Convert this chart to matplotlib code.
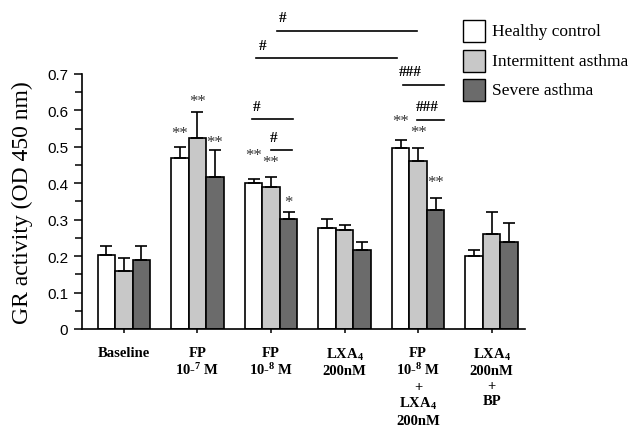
import matplotlib
matplotlib.use("Agg")
import matplotlib.pyplot as plt
from matplotlib.patches import Rectangle
import numpy as np

plt.rcParams['mathtext.fontset'] = 'custom'
plt.rcParams['mathtext.rm'] = 'Liberation Serif:bold'
plt.rcParams['mathtext.it'] = 'Liberation Serif:italic'
plt.rcParams['mathtext.bf'] = 'Liberation Serif:bold'

categories = ["Baseline", "FP\n10-$^{7}$ M", "FP\n10-$^{8}$ M", "LXA$_{4}$\n200nM",
              "FP\n10-$^{8}$ M\n+\nLXA$_{4}$\n200nM", "LXA$_{4}$\n200nM\n+\nBP"]
series_names = ["Healthy control", "Intermittent asthma", "Severe asthma"]

healthy = [0.203, 0.470, 0.400, 0.276, 0.496, 0.200]
healthy_err = [0.026, 0.030, 0.012, 0.026, 0.023, 0.018]
intermittent = [0.160, 0.524, 0.389, 0.273, 0.461, 0.262]
intermittent_err = [0.034, 0.073, 0.029, 0.013, 0.035, 0.058]
severe = [0.189, 0.418, 0.302, 0.218, 0.326, 0.239]
severe_err = [0.039, 0.073, 0.018, 0.020, 0.034, 0.053]

healthy_sig = ["", "**", "**", "", "**", ""]
intermittent_sig = ["", "**", "**", "", "**", ""]
severe_sig = ["", "**", "*", "", "**", ""]

yticks = [0, 0.1, 0.2, 0.3, 0.4, 0.5, 0.6, 0.7]
ytick_labels = ["0", "0.1", "0.2", "0.3", "0.4", "0.5", "0.6", "0.7"]

colors = ["#ffffff", "#c8c8c8", "#6b6b6b"]

fig = plt.figure(figsize=(6.36, 4.27), dpi=100)
ax = fig.add_axes([0.129, 0.2272, 0.696, 0.5972])

x = np.arange(len(categories))
w = 0.238
vals = [healthy, intermittent, severe]
errs = [healthy_err, intermittent_err, severe_err]
sigs = [healthy_sig, intermittent_sig, severe_sig]
star_off = [[0, 0.038, 0.066, 0, 0.053, 0],
            [0, 0.029, 0.041, 0, 0.046, 0],
            [0, 0.023, 0.029, 0, 0.044, 0]]
for i in range(3):
    xs = x + (i - 1) * w
    ax.bar(xs, vals[i], w, color=colors[i], edgecolor="black", linewidth=1.2, zorder=2)
    ax.errorbar(xs, vals[i], yerr=[np.zeros(len(x)), errs[i]], fmt="none",
                ecolor="black", elinewidth=1.2, capsize=4, capthick=1.2, zorder=3)
    for j, s in enumerate(sigs[i]):
        if s:
            ax.text(xs[j], vals[i][j] + errs[i][j] + star_off[i][j], s,
                    ha="center", va="center", fontsize=12, family="Liberation Serif",
                    color="#333333")

ax.set_xlim(-0.57, 5.45)
ax.set_ylim(0, 0.7)
ax.set_yticks(yticks)
ax.set_yticklabels(ytick_labels, family="Liberation Sans", fontsize=11)
ax.set_yticks(np.arange(0.05, 0.7, 0.1), minor=True)
ax.tick_params(axis="y", which="major", length=6, width=1.1, direction="out", pad=4)
ax.tick_params(axis="y", which="minor", length=5, width=1.1, direction="out")
ax.set_xticks(x)
ax.set_xticklabels(categories, family="Liberation Serif", fontsize=10.5, weight="bold",
                   linespacing=1.22)
ax.tick_params(axis="x", length=3, width=1.1, direction="out", pad=9)
for sp in ["top", "right"]:
    ax.spines[sp].set_visible(False)
for sp in ["left", "bottom"]:
    ax.spines[sp].set_linewidth(1.2)

ax.set_ylabel("GR activity (OD 450 nm)", family="Liberation Serif", fontsize=17, labelpad=10)

# significance brackets
brackets = [
    (2.08, 3.99, 0.819, "#", 2.16),
    (1.79, 3.71, 0.743, "#", 1.89),
    (3.79, 4.35, 0.671, "###", 3.89),
    (3.99, 4.35, 0.575, "###", 4.13),
    (1.74, 2.30, 0.576, "#", 1.81),
    (2.00, 2.28, 0.491, "#", 2.04),
]
for x0, x1, yy, lab, tx in brackets:
    ax.plot([x0, x1], [yy, yy], color="black", lw=1.2, clip_on=False)
    ax.text(tx, yy + 0.018, lab, ha="center", va="bottom", fontsize=11, weight="bold",
            family="Liberation Serif", clip_on=False)

# legend
for k, name in enumerate(series_names):
    ytop = 21 + k * 29.5
    r = Rectangle((463 / 636, 1 - (ytop + 22) / 427), 22 / 636, 22 / 427,
                  transform=fig.transFigure, facecolor=colors[k], edgecolor="black",
                  linewidth=1.0)
    fig.add_artist(r)
    fig.text(492 / 636, 1 - (ytop + 11) / 427, name, ha="left", va="center",
             fontsize=12.5, family="Liberation Serif")

fig.savefig("out.png", dpi=100)
